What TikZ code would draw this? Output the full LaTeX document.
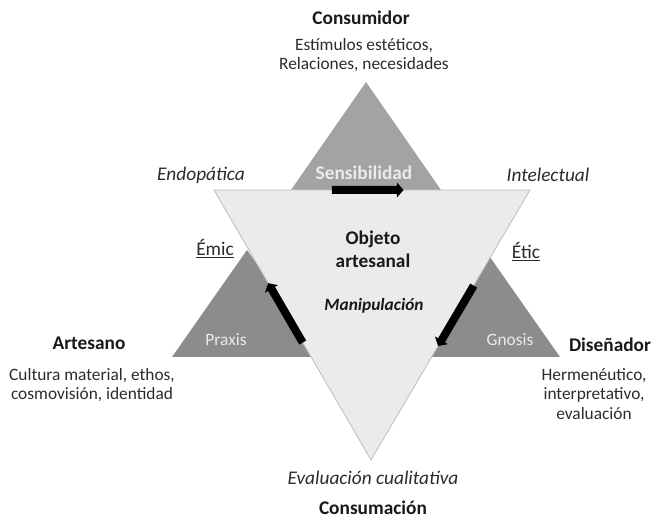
\documentclass[tikz,border=0pt]{standalone}
\usepackage{fontspec}
\setmainfont{Carlito}
\usetikzlibrary{arrows.meta, positioning, calc}

\definecolor{topgray}{HTML}{A3A3A3}
\definecolor{sidegray}{HTML}{8C8C8C}
\definecolor{objfill}{HTML}{EBEBEB}
\definecolor{objline}{HTML}{BDBDBD}
\definecolor{inkgray}{HTML}{2B2B2B}

\begin{document}
\begin{tikzpicture}[
  x=0.75pt, y=-0.75pt,
  node distance=6pt,
  actor/.style={font=\fontsize{14.5}{17}\selectfont\bfseries, inner sep=0pt, text=black!90},
  note/.style={font=\fontsize{13}{14.6}\selectfont, align=center, inner sep=0pt, text=inkgray},
  lean/.style={font=\fontsize{14.5}{17}\selectfont\itshape, inner sep=0pt, text=inkgray},
  inside/.style={font=\fontsize{13}{15}\selectfont, text=white!92!black, inner sep=0pt},
  flow/.style={-{Triangle[length=5pt,width=11pt]}, line width=6pt, black}
]
\useasboundingbox (0,0) rectangle (668,520);

% Poles
\fill[topgray] (366,82) -- (291,190) -- (441,190) -- cycle;
\fill[sidegray] (247,250) -- (172,357) -- (322,357) -- cycle;
\fill[sidegray] (485,250) -- (410,357) -- (560,357) -- cycle;

% Object
\coordinate (tl) at (214,190);
\coordinate (tr) at (530,190);
\coordinate (bt) at (371,460);
\filldraw[fill=objfill, draw=objline, line width=0.6pt] (tl) -- (tr) -- (bt) -- cycle;

% Cycle arrows
\coordinate (praxisS) at ($(tl)!0.565!(bt)$);
\coordinate (praxisE) at ($(tl)!0.345!(bt)$);
\coordinate (sensS) at ($(tl)!0.373!(tr)$);
\coordinate (sensE) at ($(tl)!0.600!(tr)$);
\coordinate (gnosisS) at ($(tr)!0.354!(bt)$);
\coordinate (gnosisE) at ($(tr)!0.578!(bt)$);
\draw[flow] (praxisS) -- (praxisE);
\draw[flow] (sensS) -- (sensE);
\draw[flow] (gnosisS) -- (gnosisE);

% Inner labels
\node[inside, font=\fontsize{14.5}{17}\selectfont\bfseries] (sensib) at (364,173) {Sensibilidad};
\node[inside] (praxis) at (226,340) {Praxis};
\node[inside] (gnosis) at (510,340) {Gnosis};
\node[actor, align=center, font=\fontsize{14.5}{17.3}\selectfont\bfseries] (objeto) at (373,249) {Objeto\\artesanal};
\node[inside, text=black!90, font=\fontsize{13}{15}\selectfont\bfseries\itshape] (manip) at (374,306) {Manipulación};

% Consumidor
\node[actor] (consumidor) at (361,18) {Consumidor};
\node[note] (estimulos) at (364,55) {Estímulos estéticos,\\Relaciones, necesidades};

% Artesano
\node[actor] (artesano) at (89,343) {Artesano};
\node[note] (cultura) at (92,385) {Cultura material, ethos,\\cosmovisión, identidad};

% Diseñador
\node[actor] (disenador) at (610,345) {Diseñador};
\node[note] (herme) at (594,394) {Hermenéutico,\\interpretativo,\\evaluación};

% Sides
\node[lean] (endo) at (201,175) {Endopática};
\node[lean] (intel) at (548,175) {Intelectual};
\node[inside, text=inkgray, font=\fontsize{14.5}{17}\selectfont] (emic) at (215,249) {\underline{Émic}};
\node[inside, text=inkgray, font=\fontsize{14.5}{17}\selectfont] (etic) at (526,252) {\underline{Étic}};

% Consumacion
\node[lean] (evalua) at (373,478) {Evaluación cualitativa};
\node[actor] (consumacion) at (373,508) {Consumación};

\end{tikzpicture}
\end{document}
